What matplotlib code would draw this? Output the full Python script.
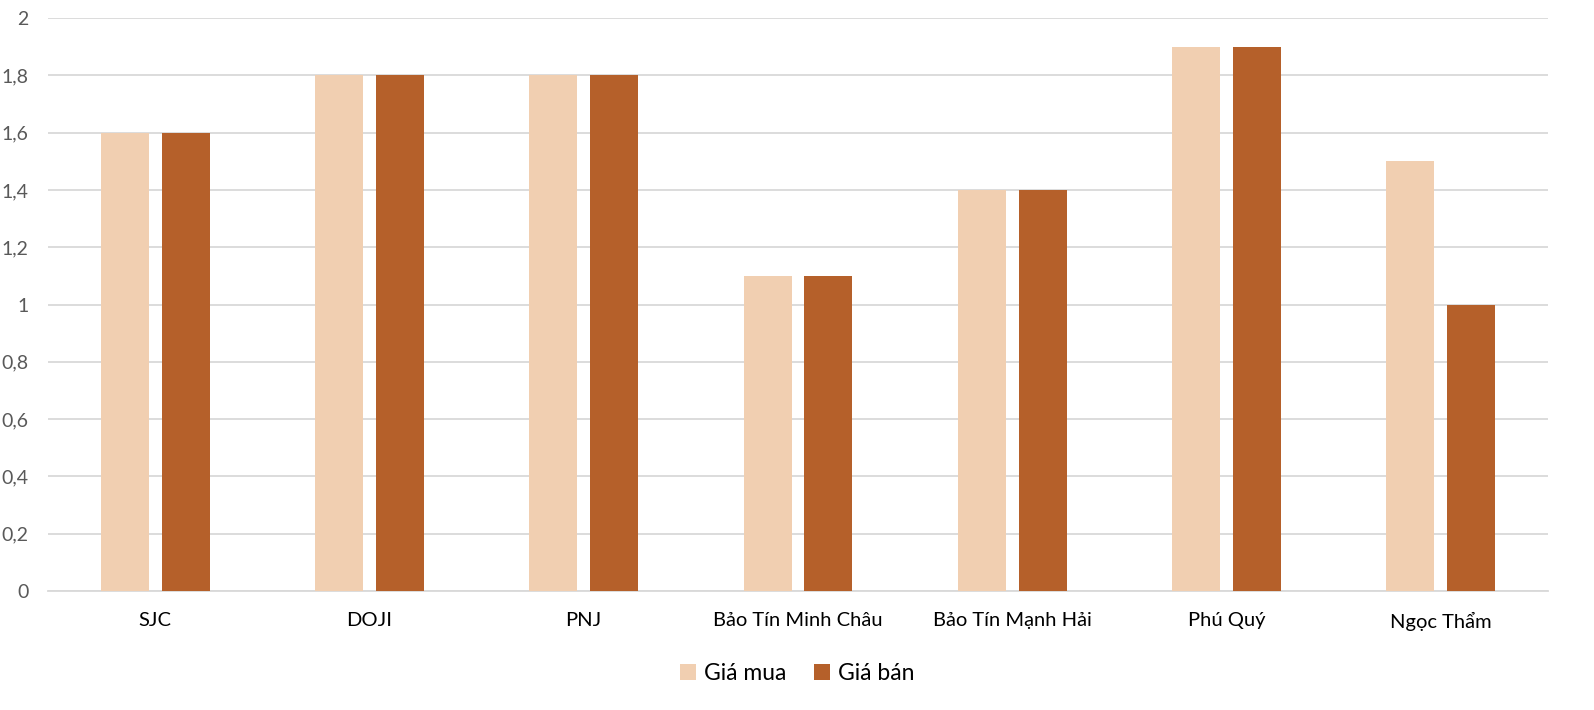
import matplotlib
matplotlib.use('Agg')
import matplotlib.pyplot as plt
import numpy as np

plt.rcParams['font.family'] = ['Lato', 'DejaVu Sans']

categories = ['SJC', 'DOJI', 'PNJ', 'Bảo Tín Minh Châu', 'Bảo Tín Mạnh Hải', 'Phú Quý', 'Ngọc Thẩm']
gia_mua = [1.6, 1.8, 1.8, 1.1, 1.4, 1.9, 1.5]
gia_ban = [1.6, 1.8, 1.8, 1.1, 1.4, 1.9, 1.0]
y_ticks = [0, 0.2, 0.4, 0.6, 0.8, 1, 1.2, 1.4, 1.6, 1.8, 2]

fig = plt.figure(figsize=(15.94, 7.10), dpi=100)
ax = fig.add_axes([0.0301, 0.1676, 0.941, 0.807])

x = np.arange(len(categories))
w = 0.224
off = 0.142
ax.bar(x - off, gia_mua, w, color='#F1CFB1', label='Giá mua', zorder=3)
ax.bar(x + off, gia_ban, w, color='#B5602A', label='Giá bán', zorder=3)

ax.set_xlim(-0.5, len(categories) - 0.5)
ax.set_ylim(0, 2)
ax.set_yticks(y_ticks)
ax.set_yticklabels([('%g' % v).replace('.', ',') for v in y_ticks])
ax.set_xticks(x)
ax.set_xticklabels(categories)

ax.grid(axis='y', color='#D9D9D9', linewidth=1.3, zorder=0)
for s in ['top', 'right', 'left']:
    ax.spines[s].set_visible(False)
ax.spines['bottom'].set_color('#D9D9D9')
ax.spines['bottom'].set_linewidth(1.3)
ax.tick_params(axis='both', length=0)
ax.tick_params(axis='y', labelsize=14, labelcolor='#595959', pad=14)
ax.tick_params(axis='x', labelsize=14.5, labelcolor='#000000', pad=15)

fig.legend(loc='lower center', bbox_to_anchor=(0.5, 0.008), ncol=2, frameon=False,
           fontsize=16.5, handlelength=0.7, handleheight=0.7, handletextpad=0.35,
           columnspacing=1.2)

fig.savefig('out.png', dpi=100)
